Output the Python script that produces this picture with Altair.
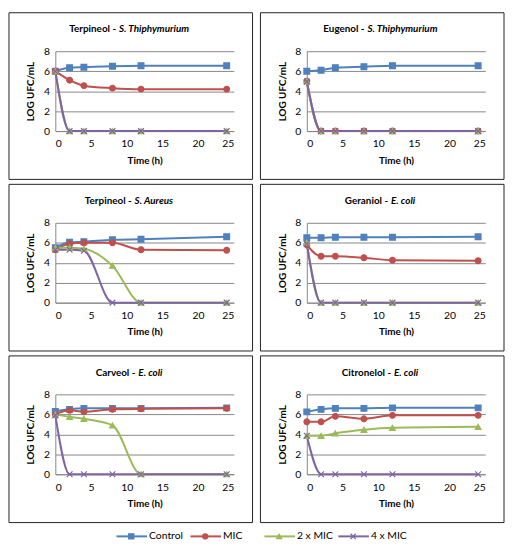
import altair as alt
import pandas as pd

# ---------------- data ----------------
times = [0, 2, 4, 8, 12, 24]
series_names = ["Control", "MIC", "2 x MIC", "4 x MIC"]
series_colors = ["#4F81BD", "#C0504D", "#9BBB59", "#8064A2"]
series_shapes = ["square", "circle", "triangle-up", "M-1,-1L1,1M-1,1L1,-1"]

panel_compounds = ["Terpineol", "Eugenol", "Terpineol", "Geraniol", "Carveol", "Citronelol"]
panel_species = ["S. Thiphymurium", "S. Thiphymurium", "S. Aureus", "E. coli", "E. coli", "E. coli"]

p1_control = [6.0, 6.35, 6.4, 6.5, 6.55, 6.55]
p1_mic = [6.0, 5.1, 4.55, 4.3, 4.2, 4.2]
p1_mic2 = [6.0, 0, 0, 0, 0, 0]
p1_mic4 = [6.0, 0, 0, 0, 0, 0]

p2_control = [6.0, 6.1, 6.35, 6.45, 6.55, 6.55]
p2_mic = [5.0, 0, 0, 0, 0, 0]
p2_mic2 = [5.0, 0, 0, 0, 0, 0]
p2_mic4 = [4.95, 0, 0, 0, 0, 0]

p3_control = [5.5, 6.05, 6.1, 6.3, 6.35, 6.6]
p3_mic = [5.3, 5.9, 6.0, 6.0, 5.3, 5.25]
p3_mic2 = [5.5, 5.5, 5.4, 3.7, 0, 0]
p3_mic4 = [5.3, 5.3, 5.2, 0, 0, 0]

p4_control = [6.5, 6.5, 6.55, 6.55, 6.55, 6.6]
p4_mic = [5.8, 4.65, 4.65, 4.5, 4.25, 4.2]
p4_mic2 = [6.0, 0, 0, 0, 0, 0]
p4_mic4 = [5.9, 0, 0, 0, 0, 0]

p5_control = [6.3, 6.5, 6.6, 6.6, 6.6, 6.65]
p5_mic = [6.0, 6.4, 6.25, 6.5, 6.55, 6.6]
p5_mic2 = [6.0, 5.75, 5.55, 4.9, 0, 0]
p5_mic4 = [5.9, 0, 0, 0, 0, 0]

p6_control = [6.25, 6.5, 6.6, 6.6, 6.65, 6.65]
p6_mic = [5.25, 5.25, 5.8, 5.55, 5.9, 5.9]
p6_mic2 = [3.85, 3.85, 4.1, 4.45, 4.65, 4.75]
p6_mic4 = [3.85, 0, 0, 0, 0, 0]

x_ticks = [0, 5, 10, 15, 20, 25]
y_ticks = [0, 2, 4, 6, 8]

panels_values = [
    [p1_control, p1_mic, p1_mic2, p1_mic4],
    [p2_control, p2_mic, p2_mic2, p2_mic4],
    [p3_control, p3_mic, p3_mic2, p3_mic4],
    [p4_control, p4_mic, p4_mic2, p4_mic4],
    [p5_control, p5_mic, p5_mic2, p5_mic4],
    [p6_control, p6_mic, p6_mic2, p6_mic4],
]

# ---------------- layout ----------------
W, H = 181, 81
FONT = "Lato"
TITLE_SIZE = 10

color_scale = alt.Scale(domain=series_names, range=series_colors)
shape_scale = alt.Scale(domain=series_names, range=series_shapes)


def text_width(s, size):
    w = 0.0
    for ch in s:
        if ch == " ":
            w += 0.2
        elif ch in "il.I":
            w += 0.25
        elif ch in "-":
            w += 0.32
        elif ch in "fjrt":
            w += 0.36
        elif ch.isupper():
            w += 0.62
        elif ch in "mw":
            w += 0.8
        else:
            w += 0.53
    return w * size


def panel(i):
    rows = []
    for s, vals in zip(series_names, panels_values[i]):
        for t, v in zip(times, vals):
            rows.append({"time": t, "value": v, "series": s})
    df = pd.DataFrame(rows)
    base = alt.Chart(df)
    xenc = alt.X("time:Q", scale=alt.Scale(domain=[0, 25], nice=False),
                 axis=alt.Axis(values=x_ticks, title="Time (h)", grid=False, ticks=False,
                               labelOverlap=False, labelPadding=8, titlePadding=6))
    yenc = alt.Y("value:Q", scale=alt.Scale(domain=[0, 8], nice=False),
                 axis=alt.Axis(values=y_ticks, title="LOG UFC/mL", grid=True, ticks=False,
                               labelOverlap=False, labelPadding=6, titlePadding=8))
    lines = base.mark_line(strokeWidth=2, interpolate="monotone").encode(
        x=xenc, y=yenc,
        color=alt.Color("series:N", scale=color_scale, legend=None),
        order=alt.Order("time:Q"),
    )
    pts = base.mark_point(size=34, opacity=1, strokeWidth=1.2, filled=False).encode(
        x=xenc, y=yenc,
        fill=alt.Fill("series:N", scale=color_scale, legend=None),
        stroke=alt.Stroke("series:N", scale=color_scale, legend=None),
        shape=alt.Shape("series:N", scale=shape_scale, legend=None),
    )
    tdf = pd.DataFrame({"compound": [panel_compounds[i] + " -"], "species": [panel_species[i]]})
    center = (-47 + W + 19) / 2
    w1 = text_width(panel_compounds[i] + " -", TITLE_SIZE)
    w2 = text_width(panel_species[i], TITLE_SIZE)
    gap = 3
    split = center + (w1 + gap - w2) / 2 - gap
    t1 = alt.Chart(tdf).mark_text(align="right", baseline="middle", font=FONT, fontSize=TITLE_SIZE,
                                   fontWeight="bold", color="#000000").encode(
        text="compound:N", x=alt.value(split), y=alt.value(-22))
    t2 = alt.Chart(tdf).mark_text(align="left", baseline="middle", font=FONT, fontSize=TITLE_SIZE,
                                   fontWeight="bold", fontStyle="italic", color="#000000",
                                   dx=gap).encode(
        text="species:N", x=alt.value(split), y=alt.value(-22))
    border = alt.Chart(tdf).mark_rect(fill="transparent", stroke="#222222", strokeWidth=1).encode(
        x=alt.value(-47), x2=alt.value(W + 19), y=alt.value(-39), y2=alt.value(H + 49))
    return alt.layer(border, lines, pts, t1, t2).properties(width=W, height=H)


# ---------------- legend ----------------
ldf = pd.DataFrame({"series": series_names})
lx = alt.X("series:N", scale=alt.Scale(domain=series_names, type="point", padding=0,
                                       range=[62, 287]), axis=None)
lbase = alt.Chart(ldf)
l_rule = lbase.mark_rule(strokeWidth=2, x2Offset=31).encode(
    x=lx, x2="series:N", y=alt.value(10),
    color=alt.Color("series:N", scale=color_scale, legend=None))
l_pt = lbase.mark_point(size=28, opacity=1, strokeWidth=1.2, filled=False, xOffset=15).encode(
    x=lx, y=alt.value(10),
    fill=alt.Fill("series:N", scale=color_scale, legend=None),
    stroke=alt.Stroke("series:N", scale=color_scale, legend=None),
    shape=alt.Shape("series:N", scale=shape_scale, legend=None))
l_txt = lbase.mark_text(align="left", baseline="middle", font=FONT, fontSize=10.5, dx=33,
                        color="#000000").encode(
    x=lx, y=alt.value(10), text="series:N")
legend = alt.layer(l_rule, l_pt, l_txt).properties(width=400, height=20)

rows = [alt.hconcat(panel(2 * r), panel(2 * r + 1), spacing=6) for r in range(3)]
chart = alt.vconcat(*rows, legend, spacing=3).properties(
    padding={"left": 0, "top": 0, "right": 0, "bottom": 0}
).configure_view(strokeWidth=0).configure_axis(
    labelFont=FONT, titleFont=FONT, labelFontSize=10.5, titleFontSize=10,
    labelColor="#000000", titleColor="#000000", titleFontWeight="bold",
    domainColor="#868686", gridColor="#868686", domainWidth=1, gridWidth=1,
    labelOverlap=False,
)

chart.save("out.html", embed_options={"renderer": "svg", "actions": False})
